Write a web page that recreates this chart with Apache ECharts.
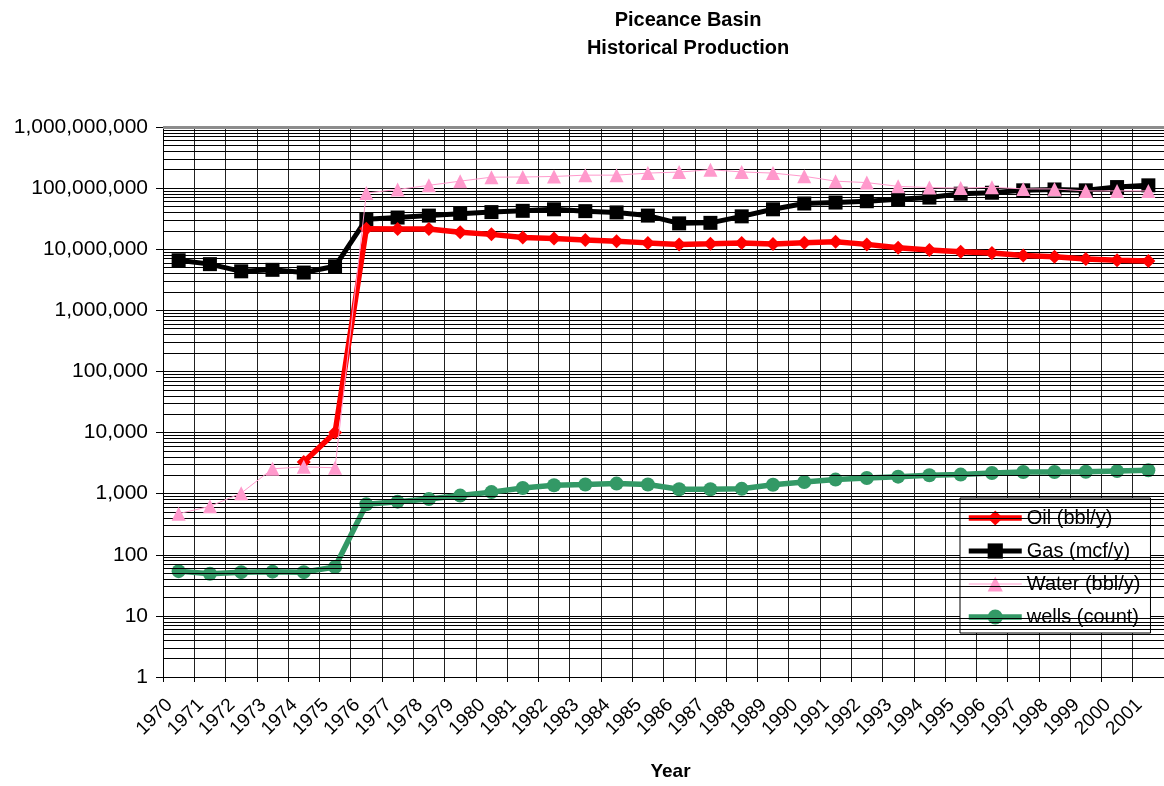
<!DOCTYPE html>
<html>
<head>
<meta charset="utf-8">
<script src="https://cdn.jsdelivr.net/npm/echarts@6/dist/echarts.min.js"></script>
<style>
html,body{margin:0;padding:0;background:#fff;}
#chart{width:1164px;height:786px;}
</style>
</head>
<body>
<div id="chart"></div>
<script>
var years = ['1970','1971','1972','1973','1974','1975','1976','1977','1978','1979','1980','1981','1982','1983','1984','1985','1986','1987','1988','1989','1990','1991','1992','1993','1994','1995','1996','1997','1998','1999','2000','2001'];
var oil = [null,null,null,null,3300,10000,21700000,21500000,21500000,19000000,17500000,15500000,15000000,14200000,13500000,12700000,12000000,12300000,12700000,12200000,12800000,13200000,12000000,10600000,9700000,9100000,8700000,7900000,7500000,6900000,6600000,6400000];
var gas = [6600000,5700000,4350000,4600000,4150000,5250000,31000000,33000000,35500000,38000000,40500000,42500000,45000000,42000000,40000000,35500000,26500000,27000000,34500000,45000000,56000000,58000000,61000000,66000000,70000000,81000000,84000000,92000000,95000000,92000000,104000000,111000000];
var water = [470,620,1020,2550,2750,2650,83000000,95000000,111000000,130000000,151000000,152000000,155000000,163000000,163000000,176000000,183000000,200000000,184000000,176000000,156000000,130000000,123000000,107000000,102000000,100000000,103000000,97000000,97000000,90000000,90000000,90000000];
var wells = [54,49,52,53,52,63,670,740,820,930,1060,1240,1370,1410,1460,1410,1180,1180,1200,1400,1550,1700,1800,1900,2000,2050,2180,2260,2260,2290,2340,2410];
var seriesNames = ['Oil (bbl/y)','Gas (mcf/y)','Water (bbl/y)','wells (count)'];
var seriesColors = ['#ff0000','#000000','#ff99cc','#339966'];
</script>
<script>
// log minor gridlines (2..9 within each decade)
var decades = [1,10,100,1000,10000,100000,1000000,10000000,100000000];
var minorMultipliers = [2,3,4,5,6,7,8,9];
var minorLines = [];
decades.forEach(function(d){ minorMultipliers.forEach(function(m){ minorLines.push({yAxis: d*m}); }); });
minorLines.push({yAxis: 1000000000, lineStyle:{color:'#8c8c8c', width:3}});

var lineWidths = [5.5, 5, 1, 5.5];

var chart = echarts.init(document.getElementById('chart'));
var font = 'Arial, "Liberation Sans", sans-serif';
chart.setOption({
  animation: false,
  backgroundColor: '#ffffff',
  title: {
    text: 'Piceance Basin\nHistorical Production',
    left: 683, top: 1, textAlign: 'center',
    textStyle: {fontFamily: font, fontSize: 20, fontWeight: 'bold', color: '#000', lineHeight: 28}
  },
  legend: {
    data: seriesNames.map(function(n, i){ return {name: n, lineStyle: {width: lineWidths[i]}}; }),
    orient: 'vertical',
    left: 960, top: 498,
    padding: [10, 10, 6, 6],
    itemGap: 13,
    itemWidth: 53, itemHeight: 19,
    backgroundColor: '#fff',
    borderColor: '#000', borderWidth: 1,
    borderRadius: 0,
    textStyle: {fontFamily: font, fontSize: 20, color: '#000'}
  },
  grid: {left: 163, right: -10, top: 127, bottom: 109},
  xAxis: {
    type: 'category',
    data: years,
    boundaryGap: true,
    name: 'Year',
    nameLocation: 'middle',
    nameGap: 85,
    nameTextStyle: {fontFamily: font, fontSize: 19, fontWeight: 'bold', color: '#000', padding: [0,0,0,14]},
    axisLine: {lineStyle: {color: '#000', width: 1}},
    axisTick: {show: true, length: 5, lineStyle: {color: '#000'}},
    axisLabel: {rotate: 45, interval: 0, margin: 16, padding: [0, 13, 0, 0], fontFamily: font, fontSize: 19, color: '#000'},
    splitLine: {show: true, interval: 0, lineStyle: {color: '#222', width: 1}}
  },
  yAxis: {
    type: 'log',
    logBase: 10,
    min: 1, max: 1000000000,
    splitNumber: 9,
    axisLine: {show: true, lineStyle: {color: '#000', width: 1}},
    axisTick: {show: true, length: 7, inside: false, lineStyle: {color: '#000'}},
    axisLabel: {margin: 15, fontFamily: font, fontSize: 21, color: '#000',
      formatter: function(v){ return Math.round(v).toLocaleString('en-US'); }},
    splitLine: {show: true, lineStyle: {color: '#000', width: 1}}
  },
  series: [
    {
      name: '_grid', type: 'line', data: [], z: 1, silent: true,
      markLine: {silent: true, symbol: ['none','none'], label: {show: false}, animation: false,
        lineStyle: {color: '#000', width: 1, type: 'solid'}, emphasis: {disabled: true},
        data: minorLines}
    },
    {
      name: seriesNames[0], type: 'line', data: oil, z: 5, connectNulls: false,
      symbol: 'diamond', symbolSize: 14,
      itemStyle: {color: seriesColors[0]}, lineStyle: {color: seriesColors[0], width: lineWidths[0]}
    },
    {
      name: seriesNames[1], type: 'line', data: gas, z: 4,
      symbol: 'rect', symbolSize: 14,
      itemStyle: {color: seriesColors[1]}, lineStyle: {color: seriesColors[1], width: lineWidths[1]}
    },
    {
      name: seriesNames[2], type: 'line', data: water, z: 6,
      symbol: 'triangle', symbolSize: 14,
      itemStyle: {color: seriesColors[2]}, lineStyle: {color: seriesColors[2], width: lineWidths[2]}
    },
    {
      name: seriesNames[3], type: 'line', data: wells, z: 4,
      symbol: 'circle', symbolSize: 14,
      itemStyle: {color: seriesColors[3]}, lineStyle: {color: seriesColors[3], width: lineWidths[3]}
    }
  ]
});
</script>
</body>
</html>
